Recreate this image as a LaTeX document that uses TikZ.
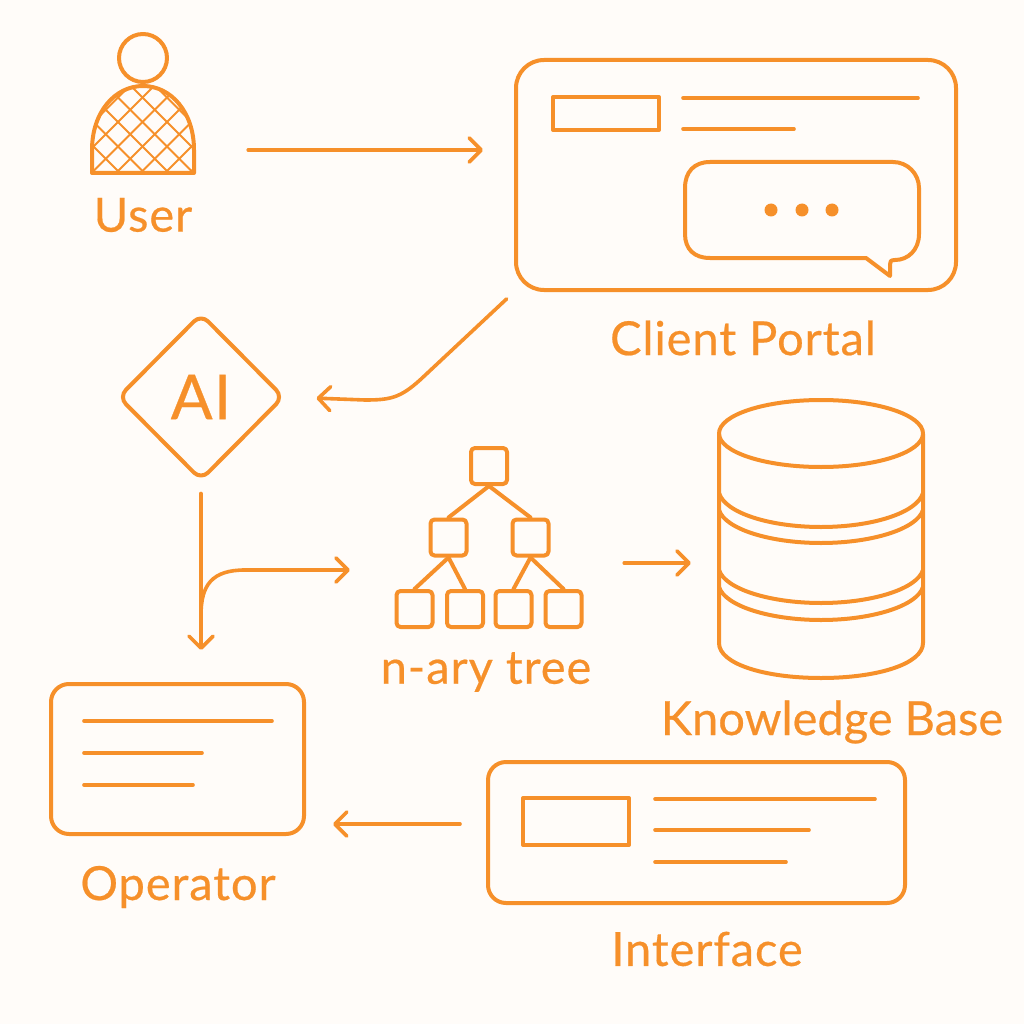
\documentclass[tikz,border=0pt]{standalone}
\usepackage{fontspec}
\setmainfont{Lato}[FakeBold=0.45,LetterSpace=2]
\usetikzlibrary{arrows.meta,shapes.geometric,calc}
\definecolor{ink}{HTML}{F6902A}
\definecolor{paper}{HTML}{FFFCF9}
\tikzset{
  line/.style={draw=ink,line width=4pt,line cap=round,line join=round},
  thin line/.style={draw=ink,line width=3.6pt,line cap=round},
  conn/.style={draw=ink,line width=3.6pt,line cap=round,-{Straight Barb[length=12pt,width=24pt,line width=3.6pt,round]}},
  card/.style={line,rounded corners=#1,inner sep=0pt},
  tbox/.style={line,rounded corners=4pt,inner sep=0pt,minimum width=36pt,minimum height=36pt},
  ghost/.style={inner sep=0pt},
  hatch/.style={draw=ink,line width=1.9pt},
  lab/.style={text=ink,inner sep=0pt,font=\fontsize{47}{50}\selectfont},
}
\begin{document}
\begin{tikzpicture}[x=1pt,y=-1pt]
\path[fill=paper] (0,0) rectangle (1024,1024);
\useasboundingbox (0,0) rectangle (1024,1024);
% User
\node[ghost,minimum width=102pt,minimum height=139pt] (user) at (143,103.5) {};
\begin{scope}
  \clip (92,173) -- (92,150) .. controls (92,112) and (115,86) .. (143,86) .. controls (171,86) and (194,112) .. (194,150) -- (194,173) -- cycle;
  \foreach \k in {-3,...,6} {
    \pgfmathsetmacro{\cc}{240+24.5*\k}
    \draw[hatch] ({\cc/2+120},{\cc/2-120}) -- ({\cc/2-120},{\cc/2+120});
  }
  \foreach \k in {-4,...,4} {
    \pgfmathsetmacro{\dd}{-4+24.5*\k}
    \draw[hatch] ({120+\dd/2-120},{120-\dd/2-120}) -- ({120+\dd/2+120},{120-\dd/2+120});
  }
\end{scope}
\draw[line] (92,173) -- (92,150) .. controls (92,112) and (115,86) .. (143,86) .. controls (171,86) and (194,112) .. (194,150) -- (194,173) -- cycle;
\draw[line] (143,58) circle (24);
\node[lab] (userlab) at (143,215) {User};
% Portal
\node[card=28pt,minimum width=440pt,minimum height=230pt] (portal) at (736,175) {};
\node[line,inner sep=0pt,minimum width=106pt,minimum height=33pt] (pbox) at (606,113.5) {};
\coordinate (pl1a) at (683,98); \coordinate (pl1b) at (918,98);
\coordinate (pl2a) at (683,129); \coordinate (pl2b) at (794,129);
\draw[thin line] (pl1a) -- (pl1b);
\draw[thin line] (pl2a) -- (pl2b);
\draw[line] (710,162) -- (893,162) arc[start angle=-90,end angle=0,radius=26] -- (919,234)
  .. controls (919,250) and (908,260) .. (895,260) .. controls (890,260) and (890,262) .. (890,265) -- (890,276) -- (866,258) -- (710,258)
  .. controls (694,258) and (685,249) .. (685,234) -- (685,188) .. controls (685,172) and (694,162) .. (710,162) -- cycle;
\foreach \x in {771,802,832} \fill[ink] (\x,210) circle (6.5);
\node[lab] (portallab) at (743,338) {Client Portal};
% AI
\node[diamond,line,rounded corners=10pt,inner sep=0pt,minimum width=166pt,minimum height=167pt,text=ink,font=\fontsize{62}{64}\selectfont] (ai) at (201,397) {AI};
% Tree
\node[ghost,minimum width=184pt,minimum height=179pt] (tree) at (489,537.5) {};
\node[tbox] (t0) at (489,466) {};
\node[tbox] (t1) at (448.5,537.5) {};
\node[tbox] (t2) at (530.5,537.5) {};
\node[tbox] (t3) at (414.5,609) {};
\node[tbox] (t4) at (465,609) {};
\node[tbox] (t5) at (513.5,609) {};
\node[tbox] (t6) at (563.5,609) {};
\draw[line] (t0.south) -- (t1.north);
\draw[line] (t0.south) -- (t2.north);
\draw[line] (t1.south) -- (t3.north);
\draw[line] (t1.south) -- (t4.north);
\draw[line] (t2.south) -- (t5.north);
\draw[line] (t2.south) -- (t6.north);
\node[lab] (treelab) at (486,672) {n-ary tree};
% Database
\node[ghost,minimum width=204pt,minimum height=278pt] (db) at (821,539) {};
\draw[line] (719,434) -- (719,643) .. controls (719,664) and (765,678) .. (821,678) .. controls (877,678) and (923,664) .. (923,643) -- (923,434);
\draw[line] (821,433.5) ellipse [x radius=102,y radius=33.5];
\foreach \a/\b in {493/527,510/543,570/603,587/620}
  \draw[line] (719,\a) .. controls (725,\b-14) and (770,\b) .. (821,\b) .. controls (872,\b) and (917,\b-14) .. (923,\a);
\node[lab] (dblab) at (832,722) {\addfontfeature{LetterSpace=0}Knowledge Base};
% Operator
\node[card=18pt,minimum width=253pt,minimum height=150pt] (op) at (177.5,759) {};
\coordinate (o1a) at (84,721); \coordinate (o1b) at (272,721);
\coordinate (o2a) at (84,753); \coordinate (o2b) at (202,753);
\coordinate (o3a) at (84,785); \coordinate (o3b) at (193,785);
\draw[thin line] (o1a) -- (o1b);
\draw[thin line] (o2a) -- (o2b);
\draw[thin line] (o3a) -- (o3b);
\node[lab] (oplab) at (178,887) {Operator};
% Interface
\node[card=18pt,minimum width=417pt,minimum height=141pt] (iface) at (696.5,832.5) {};
\node[line,inner sep=0pt,minimum width=106pt,minimum height=47pt] (ibox) at (576,821.5) {};
\coordinate (i1a) at (655,799); \coordinate (i1b) at (875,799);
\coordinate (i2a) at (655,830); \coordinate (i2b) at (809,830);
\coordinate (i3a) at (655,862); \coordinate (i3b) at (786,862);
\draw[thin line] (i1a) -- (i1b);
\draw[thin line] (i2a) -- (i2b);
\draw[thin line] (i3a) -- (i3b);
\node[lab] (ifacelab) at (707,949) {Interface};
% Connectors
\draw[conn,shorten <=54pt,shorten >=31pt] ([yshift=-46.5pt]user.east) -- ([yshift=25pt]portal.west);
\draw[conn,shorten <=10pt,shorten >=30.5pt] (portal.south west) -- (420,380) .. controls (400,398) and (390,400) .. (365,400) -- (ai.east);
\draw[conn,shorten <=11pt,shorten >=32pt] (ai.south) -- (ai.south |- op.north);
\coordinate (fork) at (201,615);
\draw[conn,shorten >=47pt] (fork) .. controls (201,585) and (212,570) .. (245,570) -- ([yshift=-32.5pt]tree.west);
\draw[conn,shorten <=43pt,shorten >=28pt] ([yshift=-25.5pt]tree.east) -- ([yshift=-24pt]db.west);
\draw[conn,shorten <=26pt,shorten >=27pt] ([yshift=8.5pt]iface.west) -- ([yshift=-65pt]op.east);
\end{tikzpicture}
\end{document}
